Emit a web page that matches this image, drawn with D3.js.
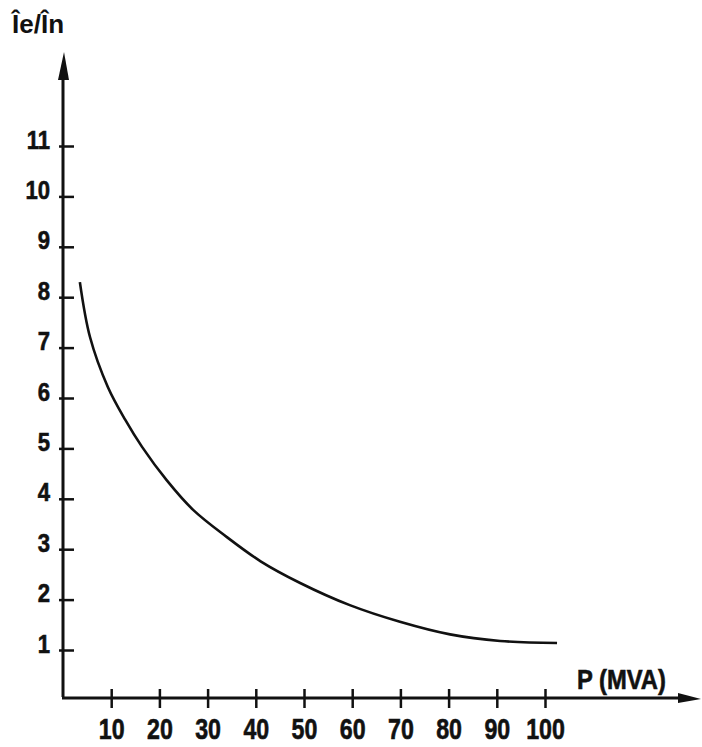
<!DOCTYPE html>
<meta charset="utf-8">
<style>
body { margin: 0; background: #fff; }
text { font-family: "Liberation Sans", Arial, sans-serif; font-weight: bold; fill: #111; }
.tick text, .lbl { stroke: #111; stroke-width: 0.6; }
</style>
<svg width="702" height="747"></svg>
<script src="https://cdn.jsdelivr.net/npm/d3@7"></script>
<script>
// values
var power = [3.5, 5.6, 9.3, 12.9, 16.4, 21.5, 27, 34, 41, 49.2, 59.5, 69.9, 80.3, 90.7, 102.5];
var ratio = [8.30, 7.21, 6.22, 5.57, 5.03, 4.37, 3.78, 3.24, 2.76, 2.33, 1.89, 1.56, 1.31, 1.18, 1.14];

var xTicks = [10, 20, 30, 40, 50, 60, 70, 80, 90, 100];
var yTicks = [1, 2, 3, 4, 5, 6, 7, 8, 9, 10, 11];

var svg = d3.select("svg");
var ink = "#111";

var x = d3.scaleLinear().domain([0, 100]).range([63, 545]);
var y = d3.scaleLinear().domain([1, 11]).range([650, 146]);
var x0 = x(0), y0 = 698;

// squeeze text a little, the original lettering is condensed
function narrow(sel, k) {
  sel.each(function() {
    var w = this.getComputedTextLength();
    d3.select(this).attr("textLength", w * k).attr("lengthAdjust", "spacingAndGlyphs");
  });
}

// axes with arrowheads
svg.append("path")
    .attr("d", "M" + x0 + ",697 L" + x0 + ",70")
    .attr("stroke", ink).attr("stroke-width", 3).attr("fill", "none");
svg.append("path")
    .attr("d", "M" + (x0 + 1) + ",52 L" + (x0 - 5) + ",80 L" + (x0 + 6) + ",80 Z")
    .attr("fill", ink);

svg.append("path")
    .attr("d", "M" + (x0 - 1) + "," + y0 + " L685," + y0)
    .attr("stroke", ink).attr("stroke-width", 3).attr("fill", "none");
svg.append("path")
    .attr("d", "M701," + (y0 + 1) + " L678," + (y0 - 5) + " L678," + (y0 + 5) + " Z")
    .attr("fill", ink);

// x axis ticks and labels
var gx = svg.append("g")
    .attr("transform", "translate(0," + y0 + ")")
    .call(d3.axisBottom(x).tickValues(xTicks).tickSize(0).tickPadding(0));
gx.select(".domain").remove();
gx.selectAll(".tick line")
    .attr("y1", -9).attr("y2", 10)
    .attr("stroke", ink).attr("stroke-width", 2.5);
gx.selectAll(".tick text")
    .attr("y", 41).attr("dy", null)
    .attr("font-size", 29).attr("fill", ink)
    .attr("font-family", null)
    .call(narrow, 0.8);

// y axis ticks and labels
var gy = svg.append("g")
    .attr("transform", "translate(" + x0 + ",0)")
    .call(d3.axisLeft(y).tickValues(yTicks).tickSize(0).tickPadding(0));
gy.select(".domain").remove();
gy.selectAll(".tick line")
    .attr("x1", -4).attr("x2", 11)
    .attr("stroke", ink).attr("stroke-width", 2.5);
gy.selectAll(".tick text")
    .attr("x", -13).attr("y", 2).attr("dy", null)
    .attr("font-size", 26).attr("fill", ink)
    .attr("font-family", null)
    .call(narrow, 0.85);

// curve
var pts = power.map(function(p, i) { return [p, ratio[i]]; });
var line = d3.line()
    .x(function(d) { return x(d[0]); })
    .y(function(d) { return y(d[1]); })
    .curve(d3.curveCatmullRom.alpha(0.5));
svg.append("path")
    .datum(pts)
    .attr("d", line)
    .attr("fill", "none")
    .attr("stroke", ink)
    .attr("stroke-width", 2.6);

// labels
svg.append("text")
    .attr("x", 12).attr("y", 33)
    .attr("font-size", 26)
    .text("Îe/În");

svg.append("text")
    .attr("class", "lbl")
    .attr("x", 577).attr("y", 689)
    .attr("font-size", 27)
    .text("P (MVA)")
    .call(narrow, 0.88);
</script>
